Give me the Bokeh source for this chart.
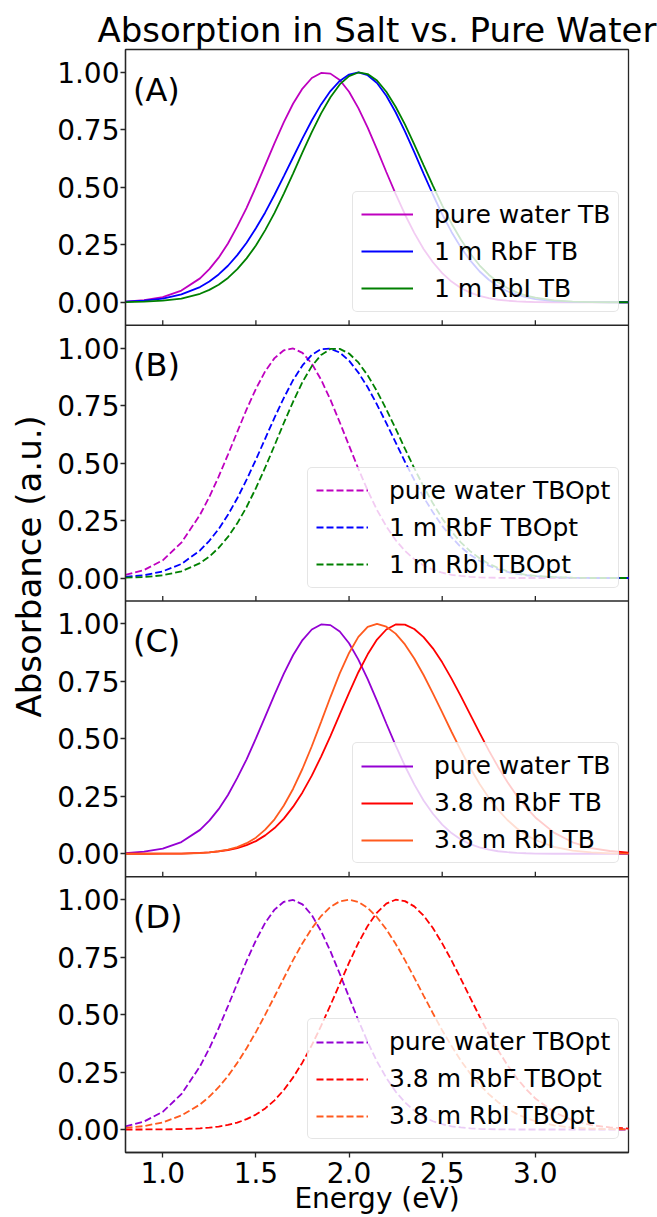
from bokeh.plotting import figure
from bokeh.models import Range1d, FixedTicker, Span, Label, Legend, LegendItem, Title
from bokeh.embed import file_html
from bokeh.resources import INLINE

# ---------------- data ----------------
energy = [0.8, 0.9, 1.0, 1.1, 1.2, 1.25, 1.3, 1.35, 1.4, 1.45, 1.5, 1.55, 1.6, 1.65, 1.7, 1.75,
          1.8, 1.85, 1.9, 1.95, 2.0, 2.05, 2.1, 2.15, 2.2, 2.25, 2.3, 2.35, 2.4, 2.45, 2.5, 2.55,
          2.6, 2.65, 2.7, 2.75, 2.8, 2.85, 2.9, 2.95, 3.0, 3.1, 3.2, 3.3, 3.4, 3.5, 3.6]

pure_water_TB = [0.003, 0.009, 0.022, 0.051, 0.104,
                 0.144, 0.194, 0.256, 0.330, 0.411, 0.502, 0.597, 0.693, 0.784, 0.865, 0.930, 0.976,
                 0.998, 0.995, 0.967, 0.916, 0.845, 0.760, 0.665, 0.567, 0.472, 0.382, 0.302, 0.232,
                 0.174, 0.127, 0.090, 0.062, 0.042, 0.028, 0.018, 0.011, 0.0068, 0.004, 0.0023, 0.001,
                 0.0, 0.0, 0.0, 0.0, 0.0, 0.0]
rbf_1m_TB = [0.003, 0.007, 0.016, 0.034, 0.066,
             0.0905, 0.121, 0.159, 0.205, 0.259, 0.322, 0.391, 0.468, 0.549, 0.631, 0.713, 0.791,
             0.861, 0.919, 0.963, 0.991, 1.0, 0.988, 0.954, 0.899, 0.827, 0.744, 0.653, 0.560,
             0.469, 0.383, 0.306, 0.239, 0.182, 0.135, 0.098, 0.070, 0.048, 0.033, 0.022, 0.014,
             0.005, 0.002, 0.001, 0.0, 0.0, 0.0]
rbi_1m_TB = [0.001, 0.0025, 0.007, 0.016, 0.037,
             0.054, 0.076, 0.106, 0.144, 0.191, 0.247, 0.314, 0.389, 0.473, 0.561, 0.652, 0.740,
             0.822, 0.892, 0.948, 0.984, 1.0, 0.993, 0.965, 0.916, 0.851, 0.774, 0.687, 0.597,
             0.508, 0.422, 0.343, 0.273, 0.212, 0.161, 0.120, 0.087, 0.062, 0.043, 0.029, 0.020,
             0.008, 0.003, 0.001, 0.0, 0.0, 0.0]

pure_water_TBOpt = [0.014, 0.035, 0.077, 0.154, 0.275,
                    0.353, 0.441, 0.537, 0.636, 0.734, 0.823, 0.900, 0.957, 0.991, 0.999, 0.980, 0.933,
                    0.863, 0.776, 0.678, 0.576, 0.475, 0.381, 0.296, 0.225, 0.165, 0.118, 0.082, 0.055,
                    0.036, 0.023, 0.014, 0.009, 0.005, 0.003, 0.0016, 0.001, 0.0005, 0.0, 0.0, 0.0,
                    0.0, 0.0, 0.0, 0.0, 0.0, 0.0]
rbf_1m_TBOpt = [0.005, 0.012, 0.029, 0.061, 0.120,
                0.162, 0.213, 0.275, 0.347, 0.428, 0.515, 0.607, 0.698, 0.784, 0.862, 0.925, 0.971,
                0.996, 0.998, 0.981, 0.946, 0.894, 0.830, 0.755, 0.674, 0.590, 0.506, 0.427, 0.352,
                0.286, 0.227, 0.177, 0.135, 0.101, 0.075, 0.054, 0.038, 0.0265, 0.018, 0.012, 0.008,
                0.003, 0.001, 0.0, 0.0, 0.0, 0.0]
rbi_1m_TBOpt = [0.0014, 0.004, 0.012, 0.029, 0.065,
                0.0935, 0.131, 0.179, 0.238, 0.309, 0.391, 0.481, 0.577, 0.675, 0.768, 0.853, 0.922,
                0.971, 0.997, 0.997, 0.977, 0.938, 0.882, 0.813, 0.734, 0.650, 0.563, 0.478, 0.398,
                0.325, 0.259, 0.203, 0.155, 0.117, 0.086, 0.062, 0.044, 0.030, 0.021, 0.014, 0.009,
                0.004, 0.0013, 0.0, 0.0, 0.0, 0.0]

rbf_38m_TB = [0.0, 0.0001, 0.0004, 0.001, 0.004,
              0.0062, 0.010, 0.016, 0.025, 0.0375, 0.055, 0.080, 0.112, 0.153, 0.205, 0.267, 0.340,
              0.423, 0.512, 0.607, 0.700, 0.790, 0.868, 0.932, 0.976, 0.998, 0.997, 0.978, 0.943,
              0.894, 0.833, 0.762, 0.686, 0.607, 0.527, 0.450, 0.378, 0.312, 0.253, 0.202, 0.158,
              0.092, 0.050, 0.025, 0.012, 0.005, 0.002]
rbi_38m_TB = [0.0, 0.0, 0.0002, 0.001, 0.003,
              0.006, 0.011, 0.0178, 0.029, 0.046, 0.070, 0.105, 0.150, 0.210, 0.283, 0.370, 0.468,
              0.574, 0.682, 0.785, 0.874, 0.944, 0.987, 1.0, 0.988, 0.958, 0.911, 0.850, 0.778,
              0.698, 0.615, 0.531, 0.450, 0.374, 0.305, 0.244, 0.191, 0.147, 0.111, 0.082, 0.060,
              0.030, 0.014, 0.006, 0.002, 0.001, 0.0]

rbf_38m_TBOpt = [0.0, 0.0002, 0.0005, 0.0017, 0.005,
                 0.008, 0.013, 0.0198, 0.030, 0.045, 0.065, 0.092, 0.127, 0.172, 0.227, 0.292, 0.367,
                 0.451, 0.541, 0.634, 0.726, 0.812, 0.886, 0.944, 0.983, 1.0, 0.994, 0.971, 0.931,
                 0.877, 0.810, 0.736, 0.656, 0.574, 0.493, 0.416, 0.345, 0.280, 0.224, 0.176, 0.135,
                 0.076, 0.040, 0.019, 0.009, 0.004, 0.001]
rbi_38m_TBOpt = [0.007, 0.015, 0.031, 0.061, 0.109,
                 0.143, 0.184, 0.233, 0.290, 0.354, 0.424, 0.500, 0.579, 0.659, 0.738, 0.811, 0.875,
                 0.929, 0.969, 0.993, 1.0, 0.990, 0.964, 0.924, 0.871, 0.808, 0.737, 0.661, 0.583,
                 0.506, 0.432, 0.363, 0.300, 0.244, 0.195, 0.154, 0.119, 0.090, 0.068, 0.050, 0.036,
                 0.018, 0.008, 0.004, 0.0015, 0.0006, 0.0]

x_ticks = [1.0, 1.5, 2.0, 2.5, 3.0]
x_tick_labels = ["1.0", "1.5", "2.0", "2.5", "3.0"]
y_ticks = [0.0, 0.25, 0.5, 0.75, 1.0]
y_tick_labels = ["0.00", "0.25", "0.50", "0.75", "1.00"]

panel_names = ["A", "B", "C", "D"]
panel_letters = ["(A)", "(B)", "(C)", "(D)"]
panel_series = [
    [("pure water TB", pure_water_TB, "#BF00BF", "solid"),
     ("1 m RbF TB", rbf_1m_TB, "#0000FF", "solid"),
     ("1 m RbI TB", rbi_1m_TB, "#008000", "solid")],
    [("pure water TBOpt", pure_water_TBOpt, "#BF00BF", "7 3"),
     ("1 m RbF TBOpt", rbf_1m_TBOpt, "#0000FF", "7 3"),
     ("1 m RbI TBOpt", rbi_1m_TBOpt, "#008000", "7 3")],
    [("pure water TB", pure_water_TB, "#9400D3", "solid"),
     ("3.8 m RbF TB", rbf_38m_TB, "#FF0000", "solid"),
     ("3.8 m RbI TB", rbi_38m_TB, "#FF5A1E", "solid")],
    [("pure water TBOpt", pure_water_TBOpt, "#9400D3", "7 3"),
     ("3.8 m RbF TBOpt", rbf_38m_TBOpt, "#FF0000", "7 3"),
     ("3.8 m RbI TBOpt", rbi_38m_TBOpt, "#FF5A1E", "7 3")],
]

# ---------------- layout / style ----------------
FONT = "DejaVu Sans"
EDGE = "#262626"
Y_LO, Y_HI = -0.1, 1.1
SPAN = Y_HI - Y_LO
N = len(panel_names)
W, H = 657, 1217
BL, BR, BT, BB = 125, 29, 49, 65
frame_h = H - BT - BB
panel_px = frame_h / N
px_per_unit = frame_h / (N * SPAN)

p = figure(width=W, height=H, output_backend="svg", toolbar_location=None,
           x_range=Range1d(0.8, 3.5), y_range=Range1d(Y_LO, Y_LO + N * SPAN),
           min_border_left=BL, min_border_right=BR, min_border_top=BT, min_border_bottom=BB,
           background_fill_color="white", border_fill_color="white",
           title="Absorption in Salt vs. Pure Water")
p.title.align = "center"
p.title.text_font = FONT
p.title.text_font_size = "34px"
p.title.text_font_style = "normal"
p.title.text_color = "black"
p.title.standoff = 0

p.grid.visible = False
p.outline_line_color = EDGE
p.outline_line_width = 1.3
p.outline_line_alpha = 1.0

offsets = [SPAN * (N - 1 - i) for i in range(N)]
p.extra_y_ranges = {name: Range1d(Y_LO - off, Y_LO + N * SPAN - off)
                    for name, off in zip(panel_names, offsets)}

# axes
p.xaxis.ticker = FixedTicker(ticks=x_ticks)
p.xaxis.major_label_overrides = dict(zip(x_ticks, x_tick_labels))
yt, ylab = [], {}
for off in offsets:
    for v, s in zip(y_ticks, y_tick_labels):
        t = round(off + v, 4)
        yt.append(t)
        ylab[t] = s
p.yaxis.ticker = FixedTicker(ticks=yt)
p.yaxis.major_label_overrides = ylab
for ax in (p.xaxis, p.yaxis):
    ax.major_tick_in = 0
    ax.major_tick_out = 5
    ax.minor_tick_line_color = None
    ax.major_tick_line_color = EDGE
    ax.major_tick_line_width = 1.3
    ax.axis_line_color = EDGE
    ax.axis_line_width = 1.3
    ax.major_label_text_font = FONT
    ax.major_label_text_font_size = "28px"
    ax.major_label_text_color = "black"
p.xaxis.major_label_standoff = 4
p.yaxis.major_label_standoff = 1

p.xaxis.axis_label = "Energy (eV)"
p.xaxis.axis_label_text_font = FONT
p.xaxis.axis_label_text_font_size = "28px"
p.xaxis.axis_label_text_font_style = "normal"
p.xaxis.axis_label_text_color = "black"
p.xaxis.axis_label_standoff = -4

ylabel = Title(text="Absorbance (a.u.)", align="left", offset=435,
               text_font=FONT, text_font_size="34px", text_font_style="normal",
               text_color="black", standoff=12)
p.add_layout(ylabel, "left")

# panel separators and inner tick marks
tick_len = 5 / px_per_unit
sx, sy0, sy1 = [], [], []
for k in range(1, N):
    b = Y_LO + k * SPAN
    p.add_layout(Span(location=b, dimension="width", line_color=EDGE, line_width=1.3))
    for t in x_ticks:
        sx.append(t)
        sy0.append(b)
        sy1.append(b + tick_len)
p.segment(x0=sx, y0=sy0, x1=sx, y1=sy1, line_color=EDGE, line_width=1.3)

legend_left = [227, 182, 227, 182]
for i, (name, letter, series) in enumerate(zip(panel_names, panel_letters, panel_series)):
    items = []
    for lbl, vals, col, dash in series:
        r = p.line(energy, vals, y_range_name=name, line_color=col, line_width=1.8,
                   line_dash=dash)
        items.append(LegendItem(label=lbl, renderers=[r]))
    leg = Legend(items=items, location=(legend_left[i], (N - 1 - i) * panel_px + 12.8),
                 label_text_font=FONT, label_text_font_size="25px", label_text_color="black",
                 glyph_width=52, glyph_height=28, label_height=28, label_standoff=21,
                 padding=8, spacing=8, margin=0,
                 border_line_color="#cccccc", border_line_width=1,
                 background_fill_color="white", background_fill_alpha=0.8)
    if hasattr(leg, "border_radius"):
        leg.border_radius = 5
    p.add_layout(leg, "center")
    p.add_layout(Label(x=0.84, y=0.925, y_range_name=name, text=letter,
                       text_font=FONT, text_font_size="32px", text_color="black",
                       text_align="left", text_baseline="alphabetic"))

open("out.html", "w").write(file_html(p, INLINE))
